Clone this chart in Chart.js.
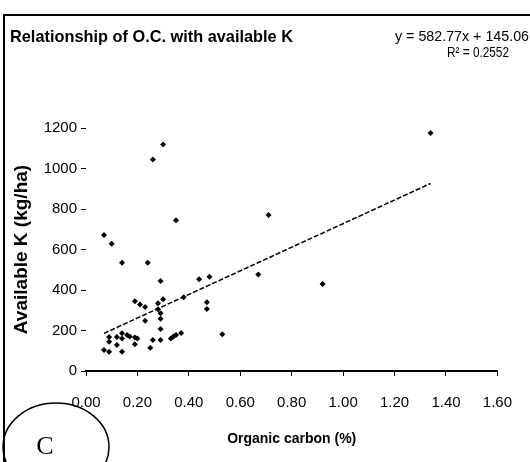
<!DOCTYPE html>
<html>
<head>
  <title>O.C. vs available K</title>
  <script src="https://cdn.jsdelivr.net/npm/chart.js"></script>
  <style>
    html, body { margin: 0; padding: 0; background: #fff; }
    #wrap { width: 530px; height: 462px; }
  </style>
</head>
<body>
  <div id="wrap"><canvas id="kChart" width="530" height="462"></canvas></div>

  <script>
    // data
    const organicCarbon = [0.07, 0.10, 0.14, 0.24, 0.26, 0.30, 0.35, 0.29, 0.44, 0.48,
                           0.71, 0.67, 0.92, 1.34, 0.47, 0.47, 0.53, 0.38, 0.37, 0.35,
                           0.33, 0.30, 0.28, 0.28, 0.29, 0.29, 0.29, 0.29, 0.26, 0.25,
                           0.23, 0.23, 0.21, 0.19, 0.20, 0.19, 0.19, 0.17, 0.16, 0.14,
                           0.14, 0.14, 0.12, 0.12, 0.09, 0.09, 0.07, 0.09, 0.34];
    const availableK = [672, 628, 535, 535, 1045, 1118, 744, 444, 453, 466,
                        770, 477, 430, 1175, 339, 306, 181, 364, 188, 178,
                        160, 354, 334, 305, 285, 258, 208, 153, 153, 115,
                        248, 316, 328, 345, 160, 166, 132, 170, 178, 186,
                        160, 95, 168, 128, 168, 145, 104, 95, 170];
    const xTicks = [0, 0.2, 0.4, 0.6, 0.8, 1.0, 1.2, 1.4, 1.6];
    const yTicks = [0, 200, 400, 600, 800, 1000, 1200];

    // linear trend shown on the chart
    const slope = 582.77;
    const intercept = 145.06;
    const rSquared = 0.2552;

    const points = organicCarbon.map((x, i) => ({ x: x, y: availableK[i] }));
    const xMin = Math.min(...organicCarbon);
    const xMax = Math.max(...organicCarbon);
    const trend = [xMin, xMax].map(x => ({ x: x, y: slope * x + intercept }));

    const sans = "'Liberation Sans', Arial, sans-serif";

    // frame, title, equation and the circled "C"
    const decorations = {
      id: 'decorations',
      afterDraw(chart) {
        const ctx = chart.ctx;
        ctx.save();
        ctx.strokeStyle = '#000';
        ctx.lineWidth = 2;
        ctx.strokeRect(4, 15, 540, 470);

        ctx.fillStyle = '#000';
        ctx.textBaseline = 'middle';
        ctx.textAlign = 'left';
        ctx.font = 'bold 17px ' + sans;
        ctx.fillText('Relationship of O.C. with available K', 10, 37, 283);

        ctx.font = '15px ' + sans;
        ctx.fillText('y = ' + slope.toFixed(2) + 'x + ' + intercept.toFixed(2), 395, 37, 134);
        ctx.fillText('R\u00b2 = ' + rSquared.toFixed(4), 447, 53, 62);

        ctx.lineWidth = 1.5;
        ctx.beginPath();
        ctx.ellipse(56, 447, 53, 44, 0, 0, Math.PI * 2);
        ctx.stroke();
        ctx.textAlign = 'center';
        ctx.font = "26px 'Liberation Serif', 'Times New Roman', serif";
        ctx.fillText('C', 45, 447);
        ctx.restore();
      }
    };

    new Chart(document.getElementById('kChart'), {
      type: 'scatter',
      data: {
        datasets: [
          {
            data: points,
            pointStyle: 'rectRot',
            pointRadius: 3,
            backgroundColor: '#000',
            borderColor: '#000',
            borderWidth: 0
          },
          {
            type: 'line',
            data: trend,
            borderColor: '#000',
            borderWidth: 1.5,
            borderDash: [5, 2],
            pointRadius: 0,
            fill: false
          }
        ]
      },
      options: {
        responsive: false,
        animation: false,
        layout: { padding: { left: 0, right: 23, top: 128, bottom: 0 } },
        plugins: {
          legend: { display: false },
          tooltip: { enabled: false }
        },
        scales: {
          x: {
            type: 'linear',
            min: 0,
            max: 1.6,
            afterFit(scale) { scale.height = 91; },
            afterBuildTicks(scale) { scale.ticks = xTicks.map(v => ({ value: v })); },
            grid: { drawOnChartArea: false, color: '#000', tickLength: 5 },
            border: { display: true, color: '#000', width: 2 },
            ticks: {
              color: '#000',
              padding: 18,
              maxRotation: 0,
              font: { family: sans, size: 15 },
              callback: v => v.toFixed(2)
            },
            title: {
              display: true,
              text: 'Organic carbon (%)',
              color: '#000',
              font: { family: sans, size: 14, weight: 'bold' },
              padding: { top: 0, bottom: 14 }
            }
          },
          y: {
            min: 0,
            max: 1200,
            afterFit(scale) { scale.width = 86; },
            afterBuildTicks(scale) { scale.ticks = yTicks.map(v => ({ value: v })); },
            grid: { drawOnChartArea: false, color: '#000', tickLength: 5 },
            border: { display: false },
            ticks: {
              color: '#000',
              padding: 4,
              font: { family: sans, size: 15 },
              callback: v => String(v)
            },
            title: {
              display: true,
              text: 'Available K (kg/ha)',
              color: '#000',
              font: { family: sans, size: 19, weight: 'bold' },
              padding: { top: 10, bottom: 0 }
            }
          }
        }
      },
      plugins: [decorations]
    });
  </script>
</body>
</html>
